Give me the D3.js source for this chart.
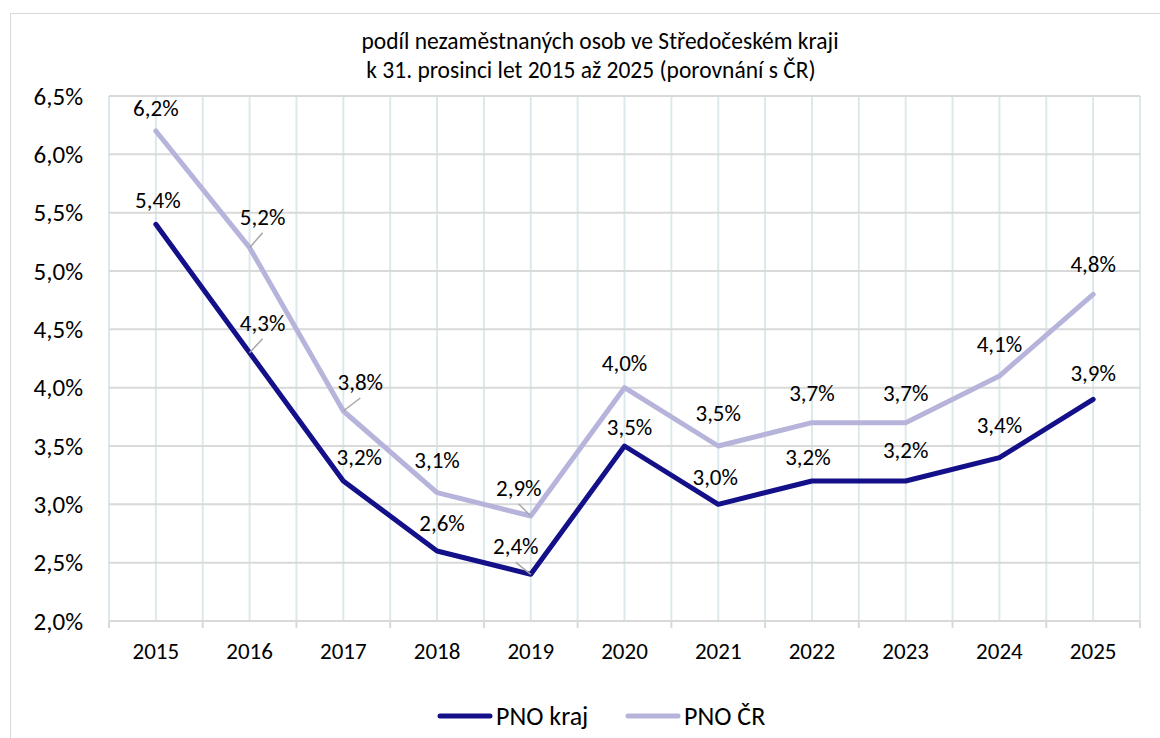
<!DOCTYPE html>
<html>
<head>
<meta charset="utf-8">
<script src="https://cdn.jsdelivr.net/npm/d3@7"></script>
<style>
  body { margin: 0; background: #fff; }
  svg { display: block; font-family: Carlito, Calibri, Lato, sans-serif; }
</style>
</head>
<body>
<svg id="chart" width="1160" height="738"></svg>
<script>
// data
const years = ['2015', '2016', '2017', '2018', '2019', '2020', '2021', '2022', '2023', '2024', '2025'];
const pnoKraj = [5.4, 4.3, 3.2, 2.6, 2.4, 3.5, 3.0, 3.2, 3.2, 3.4, 3.9];
const pnoCR = [6.2, 5.2, 3.8, 3.1, 2.9, 4.0, 3.5, 3.7, 3.7, 4.1, 4.8];
const yTicks = [2.0, 2.5, 3.0, 3.5, 4.0, 4.5, 5.0, 5.5, 6.0, 6.5];
const seriesNames = ['PNO kraj', 'PNO ČR'];
const titleLines = ['podíl nezaměstnaných osob ve Středočeském kraji', 'k 31. prosinci let 2015 až 2025 (porovnání s ČR)'];

// label placement (px offset from the point), like Excel put them
const krajLabelPos = [[2, -24], [13, -30], [16, -24], [5, -28], [-15, -28], [5, -19], [-3, -27], [-4, -24], [0, -31], [0, -33], [0, -26]];
const crLabelPos = [[0, -23], [13, -31], [17, -29], [0, -33], [-12, -28], [0, -25], [0, -33], [0, -30], [0, -30], [0, -32], [0, -30]];
const krajLeader = [1, 4];
const crLeader = [1, 2, 4];

const colors = { kraj: '#13108a', cr: '#b6b4db' };

const plot = { left: 109, right: 1140, top: 96, bottom: 621 };

const svg = d3.select('#chart');
const fmt = v => d3.format('.1f')(v).replace('.', ',') + '%';

// outer chart border
svg.append('rect')
  .attr('x', 10.5)
  .attr('y', 13.5)
  .attr('width', 1170)
  .attr('height', 760)
  .attr('fill', 'none')
  .attr('stroke', '#d9d9d9');

const x = d3.scaleBand()
  .domain(years)
  .range([plot.left, plot.right]);

const y = d3.scaleLinear()
  .domain([2, 6.5])
  .range([plot.bottom, plot.top]);

const cx = d => x(d) + x.bandwidth() / 2;

// title
svg.selectAll('.title')
  .data(titleLines)
  .enter().append('text')
  .attr('x', (d, i) => i === 0 ? 600 : 591)
  .attr('y', (d, i) => 49 + i * 29)
  .attr('text-anchor', 'middle')
  .style('font-size', '23.5px')
  .attr('fill', '#000')
  .text(d => d);

// vertical grid: band edges and centres
const edges = years.map(d => x(d)).concat([plot.right]);
const centres = years.map(cx);
svg.append('g')
  .selectAll('line')
  .data(edges.concat(centres))
  .enter().append('line')
  .attr('x1', d => d).attr('x2', d => d)
  .attr('y1', plot.top).attr('y2', plot.bottom)
  .attr('stroke', '#dbe9ec')
  .attr('stroke-width', 2);

// horizontal grid
svg.append('g')
  .selectAll('line')
  .data(yTicks.slice(1))
  .enter().append('line')
  .attr('x1', plot.left).attr('x2', plot.right)
  .attr('y1', d => y(d)).attr('y2', d => y(d))
  .attr('stroke', '#d9d9d9')
  .attr('stroke-width', 2);

// x axis line and tick marks between categories
svg.append('line')
  .attr('x1', plot.left).attr('x2', plot.right)
  .attr('y1', plot.bottom).attr('y2', plot.bottom)
  .attr('stroke', '#d9d9d9')
  .attr('stroke-width', 2);

svg.append('g')
  .selectAll('line')
  .data(edges)
  .enter().append('line')
  .attr('x1', d => d).attr('x2', d => d)
  .attr('y1', plot.bottom).attr('y2', plot.bottom + 7)
  .attr('stroke', '#d9d9d9')
  .attr('stroke-width', 2);

// y axis labels
svg.append('g')
  .selectAll('text')
  .data(yTicks)
  .enter().append('text')
  .attr('x', 83)
  .attr('y', d => y(d))
  .attr('dy', '0.35em')
  .attr('text-anchor', 'end')
  .style('font-size', '25px')
  .text(fmt);

// x axis labels
svg.append('g')
  .selectAll('text')
  .data(years)
  .enter().append('text')
  .attr('x', cx)
  .attr('y', 651)
  .attr('dy', '0.35em')
  .attr('text-anchor', 'middle')
  .style('font-size', '23px')
  .text(d => d);

// lines
const line = d3.line()
  .x((d, i) => cx(years[i]))
  .y(d => y(d));

const series = [
  { key: 'cr', values: pnoCR, pos: crLabelPos, leader: crLeader },
  { key: 'kraj', values: pnoKraj, pos: krajLabelPos, leader: krajLeader }
];

series.forEach(s => {
  svg.append('path')
    .datum(s.values)
    .attr('d', line)
    .attr('fill', 'none')
    .attr('stroke', colors[s.key])
    .attr('stroke-width', 5)
    .attr('stroke-linecap', 'round')
    .attr('stroke-linejoin', 'round');
});

// leader lines + data labels
series.forEach(s => {
  svg.append('g')
    .selectAll('line')
    .data(s.leader)
    .enter().append('line')
    .attr('x1', i => cx(years[i]))
    .attr('y1', i => y(s.values[i]))
    .attr('x2', i => cx(years[i]) + s.pos[i][0])
    .attr('y2', i => y(s.values[i]) + s.pos[i][1] + 16)
    .attr('stroke', '#a6a6a6')
    .attr('stroke-width', 1.5);

  svg.append('g')
    .selectAll('text')
    .data(s.values)
    .enter().append('text')
    .attr('x', (d, i) => cx(years[i]) + s.pos[i][0])
    .attr('y', (d, i) => y(d) + s.pos[i][1])
    .attr('dy', '0.35em')
    .attr('text-anchor', 'middle')
    .style('font-size', '23px')
    .text(fmt);
});

// legend
const legend = svg.append('g');
const legendItems = [
  { name: seriesNames[0], color: colors.kraj, x: 438 },
  { name: seriesNames[1], color: colors.cr, x: 626 }
];
legendItems.forEach(it => {
  legend.append('line')
    .attr('x1', it.x + 2).attr('x2', it.x + 52)
    .attr('y1', 716).attr('y2', 716)
    .attr('stroke', it.color)
    .attr('stroke-width', 5)
    .attr('stroke-linecap', 'round');
  legend.append('text')
    .attr('x', it.x + 58)
    .attr('y', 716)
    .attr('dy', '0.35em')
    .style('font-size', '26px')
    .text(it.name);
});
</script>
</body>
</html>
